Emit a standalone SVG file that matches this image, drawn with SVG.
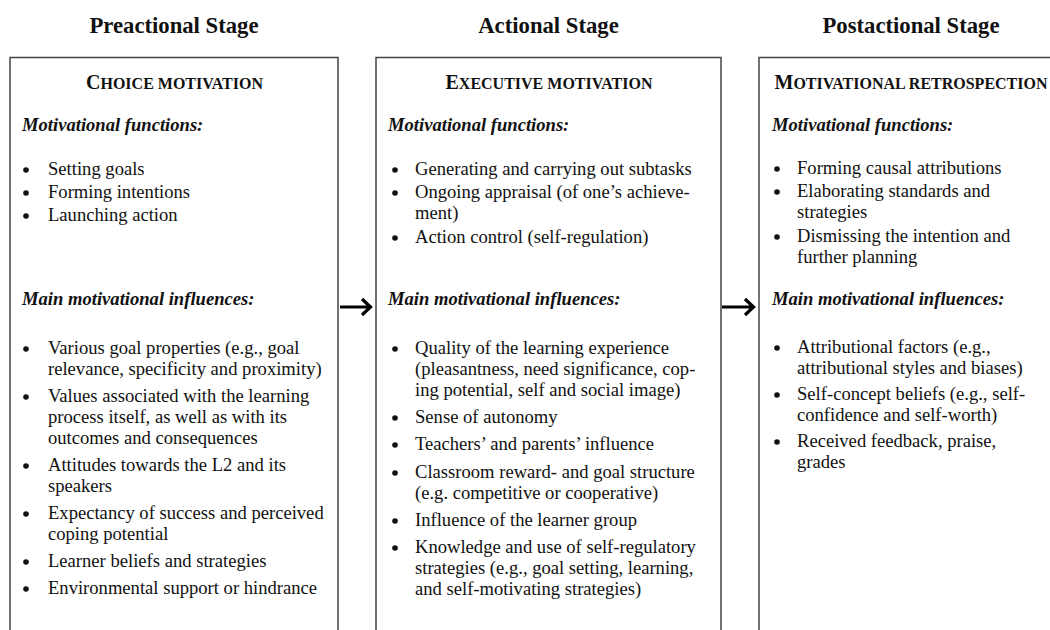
<svg xmlns="http://www.w3.org/2000/svg" width="1050" height="630" viewBox="0 0 1050 630">
<style>
text{font-family:"Liberation Serif","Times New Roman",serif;fill:#111}
.stage{font-size:22.7px;font-weight:bold;text-anchor:middle}
.hd{font-weight:bold;text-anchor:middle}
.big{font-size:20px}
.sm{font-size:16px}
.sub{font-size:18.6px;font-weight:bold;font-style:italic}
.b{font-size:18.6px}
.box{fill:none;stroke:#444;stroke-width:1.5}
.dot{fill:#111}
.arr{fill:none;stroke:#000;stroke-width:3.2}
</style>
<rect width="1050" height="630" fill="#fff"/>

<g id="preactional">
<text class="stage" x="174" y="33">Preactional Stage</text>
<path class="box" d="M10,640 V57.5 H338 V640"/>
<text class="hd" x="174.5" y="89"><tspan class="big">C</tspan><tspan class="sm">HOICE MOTIVATION</tspan></text>
<text class="sub" x="22" y="131">Motivational functions:</text>
<g class="dot"><circle cx="26" cy="170" r="2.8"/><circle cx="26" cy="193" r="2.8"/><circle cx="26" cy="216" r="2.8"/></g>
<text class="b" x="48" y="175">Setting goals</text>
<text class="b" x="48" y="198">Forming intentions</text>
<text class="b" x="48" y="221">Launching action</text>
<text class="sub" x="22" y="305">Main motivational influences:</text>
<g class="dot"><circle cx="26" cy="349" r="2.8"/><circle cx="26" cy="397" r="2.8"/><circle cx="26" cy="466" r="2.8"/><circle cx="26" cy="514" r="2.8"/><circle cx="26" cy="562" r="2.8"/><circle cx="26" cy="589" r="2.8"/></g>
<text class="b" x="48" y="354">Various goal properties (e.g., goal</text>
<text class="b" x="48" y="375">relevance, specificity and proximity)</text>
<text class="b" x="48" y="402">Values associated with the learning</text>
<text class="b" x="48" y="423">process itself, as well as with its</text>
<text class="b" x="48" y="444">outcomes and consequences</text>
<text class="b" x="48" y="471">Attitudes towards the L2 and its</text>
<text class="b" x="48" y="492">speakers</text>
<text class="b" x="48" y="519">Expectancy of success and perceived</text>
<text class="b" x="48" y="540">coping potential</text>
<text class="b" x="48" y="567">Learner beliefs and strategies</text>
<text class="b" x="48" y="594">Environmental support or hindrance</text>
</g>

<g id="actional">
<text class="stage" x="548.5" y="33">Actional Stage</text>
<path class="box" d="M376,640 V57.5 H721 V640"/>
<text class="hd" x="549" y="89"><tspan class="big">E</tspan><tspan class="sm">XECUTIVE MOTIVATION</tspan></text>
<text class="sub" x="388" y="131">Motivational functions:</text>
<g class="dot"><circle cx="395" cy="170" r="2.8"/><circle cx="395" cy="193" r="2.8"/><circle cx="395" cy="238" r="2.8"/></g>
<text class="b" x="415" y="175">Generating and carrying out subtasks</text>
<text class="b" x="415" y="198">Ongoing appraisal (of one’s achieve-</text>
<text class="b" x="415" y="219">ment)</text>
<text class="b" x="415" y="243">Action control (self-regulation)</text>
<text class="sub" x="388" y="305">Main motivational influences:</text>
<g class="dot"><circle cx="395" cy="349" r="2.8"/><circle cx="395" cy="418" r="2.8"/><circle cx="395" cy="445" r="2.8"/><circle cx="395" cy="473" r="2.8"/><circle cx="395" cy="521" r="2.8"/><circle cx="395" cy="548" r="2.8"/></g>
<text class="b" x="415" y="354">Quality of the learning experience</text>
<text class="b" x="415" y="375">(pleasantness, need significance, cop-</text>
<text class="b" x="415" y="396">ing potential, self and social image)</text>
<text class="b" x="415" y="423">Sense of autonomy</text>
<text class="b" x="415" y="450">Teachers’ and parents’ influence</text>
<text class="b" x="415" y="478">Classroom reward- and goal structure</text>
<text class="b" x="415" y="499">(e.g. competitive or cooperative)</text>
<text class="b" x="415" y="526">Influence of the learner group</text>
<text class="b" x="415" y="553">Knowledge and use of self-regulatory</text>
<text class="b" x="415" y="574">strategies (e.g., goal setting, learning,</text>
<text class="b" x="415" y="595">and self-motivating strategies)</text>
</g>

<g id="postactional">
<text class="stage" x="911" y="33">Postactional Stage</text>
<path class="box" d="M759,640 V57.5 H1052"/>
<text class="hd" x="911" y="89"><tspan class="big">M</tspan><tspan class="sm">OTIVATIONAL RETROSPECTION</tspan></text>
<text class="sub" x="772" y="131">Motivational functions:</text>
<g class="dot"><circle cx="777" cy="169" r="2.8"/><circle cx="777" cy="192" r="2.8"/><circle cx="777" cy="237" r="2.8"/></g>
<text class="b" x="797" y="174">Forming causal attributions</text>
<text class="b" x="797" y="197">Elaborating standards and</text>
<text class="b" x="797" y="218">strategies</text>
<text class="b" x="797" y="242">Dismissing the intention and</text>
<text class="b" x="797" y="263">further planning</text>
<text class="sub" x="772" y="305">Main motivational influences:</text>
<g class="dot"><circle cx="777" cy="348" r="2.8"/><circle cx="777" cy="395" r="2.8"/><circle cx="777" cy="442" r="2.8"/></g>
<text class="b" x="797" y="353">Attributional factors (e.g.,</text>
<text class="b" x="797" y="374">attributional styles and biases)</text>
<text class="b" x="797" y="400">Self-concept beliefs (e.g., self-</text>
<text class="b" x="797" y="421">confidence and self-worth)</text>
<text class="b" x="797" y="447">Received feedback, praise,</text>
<text class="b" x="797" y="468">grades</text>
</g>

<g id="connectors">
<path class="arr" d="M340,307 H370 M362,299 L370.5,307 L362,315"/>
<path class="arr" d="M722,307 H753 M745,299 L753.5,307 L745,315"/>
</g>
</svg>
